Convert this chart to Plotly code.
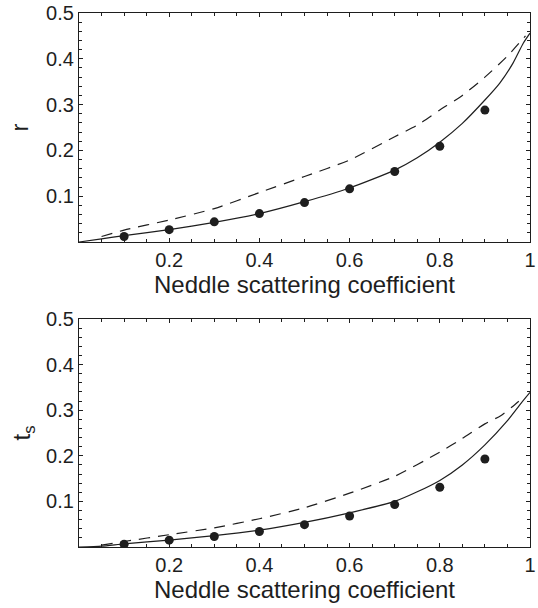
import plotly.graph_objects as go

# coeficiente de dispersión de la aguja
x_dots = [0.1, 0.2, 0.3, 0.4, 0.5, 0.6, 0.7, 0.8, 0.9]
r_dots = [0.012, 0.027, 0.044, 0.062, 0.086, 0.116, 0.154, 0.209, 0.288]
ts_dots = [0.006, 0.015, 0.023, 0.034, 0.049, 0.068, 0.093, 0.131, 0.193]

x_r_solid = [0.0, 0.05, 0.1, 0.2, 0.3, 0.4, 0.5, 0.6, 0.7, 0.75, 0.8, 0.85, 0.9, 0.933, 0.962, 0.985, 1.0]
r_solid = [0.0, 0.007, 0.014, 0.027, 0.043, 0.062, 0.088, 0.118, 0.157, 0.184, 0.218, 0.259, 0.31, 0.347, 0.39, 0.434, 0.456]
x_r_dash = [0.05, 0.1, 0.2, 0.3, 0.4, 0.5, 0.6, 0.7, 0.75, 0.8, 0.85, 0.9, 0.95, 0.99]
r_dash = [0.012, 0.026, 0.048, 0.073, 0.108, 0.143, 0.179, 0.23, 0.255, 0.288, 0.32, 0.36, 0.406, 0.45]

x_ts_solid = [0.0, 0.05, 0.1, 0.2, 0.3, 0.4, 0.5, 0.6, 0.7, 0.75, 0.8, 0.85, 0.9, 0.95, 0.98, 1.0]
ts_solid = [0.0, 0.002, 0.007, 0.015, 0.025, 0.037, 0.054, 0.075, 0.1, 0.121, 0.146, 0.18, 0.224, 0.277, 0.315, 0.339]
x_ts_dash = [0.05, 0.1, 0.2, 0.3, 0.4, 0.5, 0.6, 0.7, 0.8, 0.85, 0.9, 0.935, 0.96, 0.985]
ts_dash = [0.004, 0.012, 0.027, 0.042, 0.062, 0.086, 0.118, 0.155, 0.208, 0.238, 0.27, 0.288, 0.307, 0.328]

ink = "#1e1e1e"
font = "Liberation Sans, Arial, sans-serif"

fig = go.Figure()

panels = [("x", "y", r_dots, x_r_solid, r_solid, x_r_dash, r_dash),
          ("x2", "y2", ts_dots, x_ts_solid, ts_solid, x_ts_dash, ts_dash)]
for xa, ya, dots, xs, solid, xd, dash in panels:
    fig.add_trace(go.Scatter(x=xs, y=solid, mode="lines", xaxis=xa, yaxis=ya,
                             line=dict(color=ink, width=1.2, shape="spline", smoothing=0.6), showlegend=False))
    fig.add_trace(go.Scatter(x=xd, y=dash, mode="lines", xaxis=xa, yaxis=ya,
                             line=dict(color=ink, width=1.2, dash="11px,8px", shape="spline", smoothing=0.6),
                             showlegend=False))
    fig.add_trace(go.Scatter(x=x_dots, y=dots, mode="markers", xaxis=xa, yaxis=ya,
                             marker=dict(color=ink, size=9), showlegend=False))

xcommon = dict(range=[0, 1], tickvals=[0.2, 0.4, 0.6, 0.8, 1.0], ticktext=["0.2", "0.4", "0.6", "0.8", "1"],
               ticks="inside", ticklen=4, tickcolor=ink, showline=True, linecolor=ink, linewidth=1.3,
               mirror="allticks", showgrid=False, zeroline=False, automargin=False,
               minor=dict(dtick=0.05, ticks="inside", ticklen=3, tickcolor=ink, showgrid=False),
               tickfont=dict(size=20, color=ink, family=font),
               title=dict(text="Neddle scattering coefficient", font=dict(size=24, color=ink, family=font), standoff=2),
               domain=[79 / 538, 530 / 538])
ycommon = dict(range=[0, 0.5], tickvals=[0.1, 0.2, 0.3, 0.4, 0.5],
               ticks="inside", ticklen=4, tickcolor=ink, showline=True, linecolor=ink, linewidth=1.3,
               mirror="allticks", showgrid=False, zeroline=False, automargin=False,
               minor=dict(dtick=0.02, ticks="inside", ticklen=3, tickcolor=ink, showgrid=False),
               tickfont=dict(size=20, color=ink, family=font))

fig.update_layout(
    width=538, height=608,
    margin=dict(l=0, r=0, t=0, b=0),
    paper_bgcolor="white", plot_bgcolor="white",
    xaxis=dict(xcommon, anchor="y"),
    yaxis=dict(ycommon, domain=[1 - 242 / 608, 1 - 13 / 608], anchor="x",
               title=dict(text="r", font=dict(size=24, color=ink, family=font), standoff=10)),
    xaxis2=dict(xcommon, anchor="y2"),
    yaxis2=dict(ycommon, domain=[1 - 547 / 608, 1 - 319 / 608], anchor="x2",
                title=dict(text="t<sub>s</sub>", font=dict(size=24, color=ink, family=font), standoff=8)),
)

fig.write_html("out.html", config={"displayModeBar": False},
               post_script="document.body.style.margin='0';")
